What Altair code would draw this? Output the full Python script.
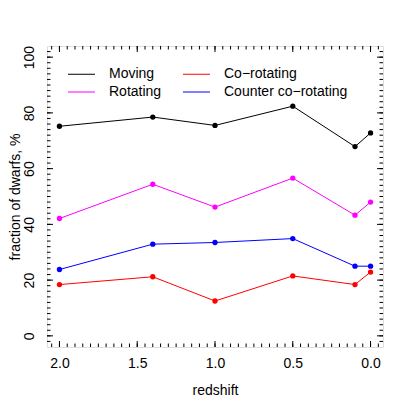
import altair as alt
import pandas as pd

# ---- data ----
redshift = [2.0, 1.4, 1.0, 0.5, 0.1, 0.0]
moving = [75.2, 78.5, 75.5, 82.4, 67.9, 72.8]
rotating = [42.1, 54.4, 46.2, 56.6, 43.3, 48.0]
co_rot = [18.4, 21.2, 12.5, 21.5, 18.4, 22.9]
counter_rot = [23.8, 32.9, 33.5, 34.9, 25.0, 25.0]

series_names = ["Moving", "Rotating", "Co\u2212rotating", "Counter co\u2212rotating"]
series_colors = ["black", "magenta", "red", "blue"]
series_vals = [moving, rotating, co_rot, counter_rot]

x_major = [2.0, 1.5, 1.0, 0.5, 0.0]
x_minor = [round(i * 0.05, 2) for i in range(-1, 42)]
y_major = [0, 20, 40, 60, 80, 100]
y_minor = list(range(-2, 104, 2))

rows = []
for name, vals in zip(series_names, series_vals):
    for z, v in zip(redshift, vals):
        rows.append({"z": z, "val": v, "series": name})
df = pd.DataFrame(rows)

W, H = 336, 301
FONT = "Liberation Sans"

xs = alt.Scale(domain=[2.08, -0.08], nice=False, zero=False)
ys = alt.Scale(domain=[-4, 104], nice=False, zero=False)
xaxis = alt.Axis(values=x_major, format=".1f", ticks=False, domain=False, grid=False,
                 title="redshift", labelPadding=9, titlePadding=13,
                 labelFontSize=14, titleFontSize=14, labelFont=FONT, titleFont=FONT,
                 titleFontWeight="normal", labelColor="black", titleColor="black",
                 labelFlush=False)
yaxis = alt.Axis(values=y_major, ticks=False, domain=False, grid=False,
                 title="fraction of dwarfs, %", labelAngle=-90, labelPadding=11,
                 titleX=-25, titleY=H / 2, titleAngle=-90, titleAlign="center",
                 titleBaseline="bottom",
                 labelFontSize=14, titleFontSize=14, labelFont=FONT,
                 titleFont=FONT, titleFontWeight="normal", labelColor="black",
                 titleColor="black", labelFlush=False)

def X():
    return alt.X("z:Q", scale=xs, axis=xaxis)

def Y():
    return alt.Y("val:Q", scale=ys, axis=yaxis)

lines = alt.Chart(df).mark_line(
    strokeWidth=1, point=alt.OverlayMarkDef(filled=True, size=28)
).encode(
    x=X(), y=Y(),
    color=alt.Color("series:N",
                    scale=alt.Scale(domain=series_names, range=series_colors),
                    sort=series_names,
                    legend=alt.Legend(title=None, orient="none", legendX=27, legendY=20.5,
                                      columns=2, symbolType="M-2,0L2,0", symbolSize=182,
                                      symbolStrokeWidth=1, symbolFillColor="transparent",
                                      labelFontSize=14, labelFont=FONT,
                                      labelOffset=20, columnPadding=19, rowPadding=3,
                                      padding=0, labelColor="black")),
    detail="series:N",
)

layers = [lines]
for vals, ln in [(x_minor, 3.5), (x_major, 6)]:
    d = pd.DataFrame({"z": vals})
    layers.append(alt.Chart(d).mark_rule(color="black", strokeWidth=1).encode(
        x=X(), y=alt.value(H), y2=alt.value(H - ln)))
    layers.append(alt.Chart(d).mark_rule(color="black", strokeWidth=1).encode(
        x=X(), y=alt.value(0), y2=alt.value(ln)))
for vals, ln in [(y_minor, 3.5), (y_major, 6)]:
    d = pd.DataFrame({"val": vals})
    layers.append(alt.Chart(d).mark_rule(color="black", strokeWidth=1).encode(
        y=Y(), x=alt.value(0), x2=alt.value(ln)))
    layers.append(alt.Chart(d).mark_rule(color="black", strokeWidth=1).encode(
        y=Y(), x=alt.value(W), x2=alt.value(W - ln)))

chart = alt.layer(*layers).properties(
    width=W, height=H,
    autosize=alt.AutoSizeParams(type="none"),
    padding={"left": 39, "top": 38, "right": 16, "bottom": 52},
).configure_view(stroke="black", strokeWidth=1).configure(background="white")

chart.save("out.html", embed_options={"renderer": "svg", "actions": False})
